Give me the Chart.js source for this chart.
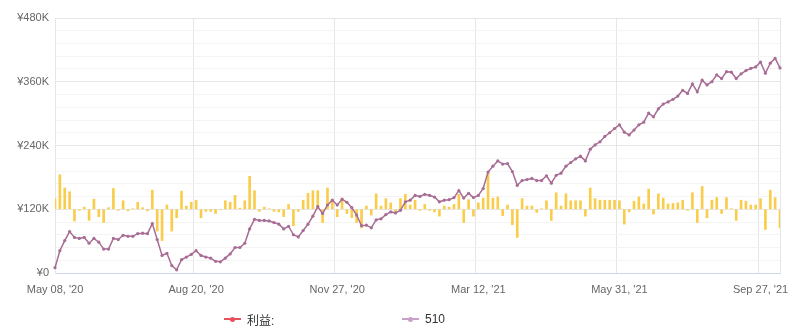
<!DOCTYPE html>
<html>
<head>
<meta charset="utf-8">
<script src="https://cdn.jsdelivr.net/npm/chart.js@4.4.0/dist/chart.umd.min.js"></script>
<style>
  body { margin: 0; background: #fff; }
  #wrap { position: relative; width: 790px; height: 333px; }
  .legend-item {
    position: absolute; top: 311px; height: 16px; line-height: 16px;
    font: 12px "Liberation Sans", "Noto Sans CJK SC", sans-serif; color: #333;
    display: flex; align-items: center;
  }
  .legend-line { position: relative; width: 17px; height: 2px; margin-right: 6px; }
  .legend-line i { position: absolute; left: 6px; top: -1.5px; width: 5px; height: 5px; border-radius: 50%; }
</style>
</head>
<body>
<div id="wrap">
  <canvas id="profit" width="790" height="333"></canvas>
  <div class="legend-item" style="left:224px">
    <span class="legend-line" style="background:#e8505b"><i style="background:#e8505b"></i></span>利益:
  </div>
  <div class="legend-item" style="left:402px">
    <span class="legend-line" style="background:#c9a0c6"><i style="background:#c9a0c6"></i></span>510
  </div>
</div>
<script>
// cumulative value, thousands of yen
const balanceK = [
  10, 42, 61, 78, 67, 65, 67, 56, 65, 58, 45, 45, 65, 63, 71, 69, 69, 74, 75, 74,
  93, 63, 33, 37, 14, 6, 25, 30, 35, 42, 33, 30, 28, 22, 21, 28, 36, 48, 48, 56,
  83, 101, 99, 99, 98, 95, 92, 83, 88, 72, 68, 80, 92, 107, 125, 112, 128, 137, 128, 139,
  133, 123, 109, 89, 90, 85, 100, 102, 110, 115, 113, 118, 134, 137, 146, 144, 148, 146, 143, 134,
  137, 138, 142, 155, 141, 150, 142, 146, 159, 190, 201, 211, 205, 206, 191, 165, 174, 176, 178, 174,
  174, 183, 169, 184, 188, 201, 208, 215, 220, 211, 233, 241, 247, 257, 264, 272, 279, 265, 260, 269,
  279, 284, 301, 294, 309, 318, 322, 327, 333, 344, 338, 356, 341, 363, 354, 360, 373, 366, 379, 378,
  366, 375, 381, 385, 388, 397, 376, 395, 404, 386
];

// per-day profit bars
const profitK = [
  20, 65, 40, 33, -22, -2, 4, -21, 19, -14, -25, 3, 39, -2, 16, -3, 1, 13, 3, -3,
  36, -41, -59, 8, -41, -16, 34, 6, 13, 17, -16, -4, -4, -8, -1, 16, 13, 26, 2, 16,
  62, 35, -4, 4, 1, -4, -5, -14, 9, -31, -4, 17, 30, 35, 35, -25, 40, 13, -14, 20,
  -8, -16, -25, -35, 6, -11, 29, 6, 20, 12, -5, 20, 28, 8, 17, -2, 9, -2, -5, -13,
  6, 4, 9, 28, -25, 18, -13, 12, 21, 69, 21, 23, -12, 8, -29, -53, 20, 6, 6, -6,
  1, 16, -21, 31, 6, 29, 16, 16, 16, -13, 40, 20, 17, 17, 17, 17, 16, -28, -5, 15,
  23, 10, 38, -9, 29, 21, 10, 11, 12, 17, -2, 31, -25, 43, -16, 17, 22, -8, 22, 1,
  -21, 17, 15, 8, 8, 20, -38, 36, 22, -35
];

const tickIndex = [0, 29, 58, 87, 116, 145];
const tickText = ["May 08, '20", "Aug 20, '20", "Nov 27, '20", "Mar 12, '21", "May 31, '21", "Sep 27, '21"];

const days = balanceK.map((_, i) => i);

Chart.defaults.font.family = '"Liberation Sans", Arial, sans-serif';
Chart.defaults.font.size = 11;
Chart.defaults.color = '#666';

new Chart(document.getElementById('profit'), {
  data: {
    labels: days,
    datasets: [
      {
        type: 'line',
        label: '510',
        data: balanceK,
        yAxisID: 'y',
        borderColor: '#a86d94',
        borderWidth: 1.5,
        pointRadius: 1.6,
        pointBorderWidth: 0,
        pointBackgroundColor: '#a86d94',
        tension: 0,
        order: 1
      },
      {
        type: 'bar',
        label: '利益:',
        data: profitK,
        yAxisID: 'y2',
        backgroundColor: '#f9cd4b',
        barThickness: 2,
        order: 2
      }
    ]
  },
  options: {
    responsive: false,
    animation: false,
    devicePixelRatio: 1,
    layout: { padding: { top: 18, right: 7, left: 0, bottom: 0 } },
    plugins: {
      legend: { display: false },
      tooltip: { enabled: false }
    },
    scales: {
      x: {
        type: 'category',
        offset: false,
        grid: {
          drawTicks: false,
          color: (c) => tickIndex.includes(c.index) ? '#e6e6e6' : 'rgba(0,0,0,0)'
        },
        border: { color: '#ccd6eb' },
        ticks: {
          autoSkip: false,
          maxRotation: 0,
          padding: 10,
          callback: (v, i) => {
            const k = tickIndex.indexOf(i);
            return k >= 0 ? tickText[k] : '';
          }
        },
        afterFit: (s) => { s.height = 60; }
      },
      y: {
        position: 'left',
        min: 0,
        max: 480,
        grid: {
          drawTicks: false,
          color: (c) => c.tick.value % 120 === 0 ? '#e6e6e6' : '#f4f4f4'
        },
        border: { color: '#e6e6e6' },
        ticks: {
          stepSize: 24,
          autoSkip: false,
          padding: 6,
          callback: (v) => v % 120 === 0 ? '¥' + v + (v === 0 ? '' : 'K') : ''
        },
        afterFit: (s) => { s.width = 55; }
      },
      y2: {
        position: 'right',
        min: -120,
        max: 360,
        grid: { drawOnChartArea: false, drawTicks: false },
        border: { color: '#e6e6e6' },
        ticks: { display: false },
        afterFit: (s) => { s.width = 0; }
      }
    }
  }
});
</script>
</body>
</html>
